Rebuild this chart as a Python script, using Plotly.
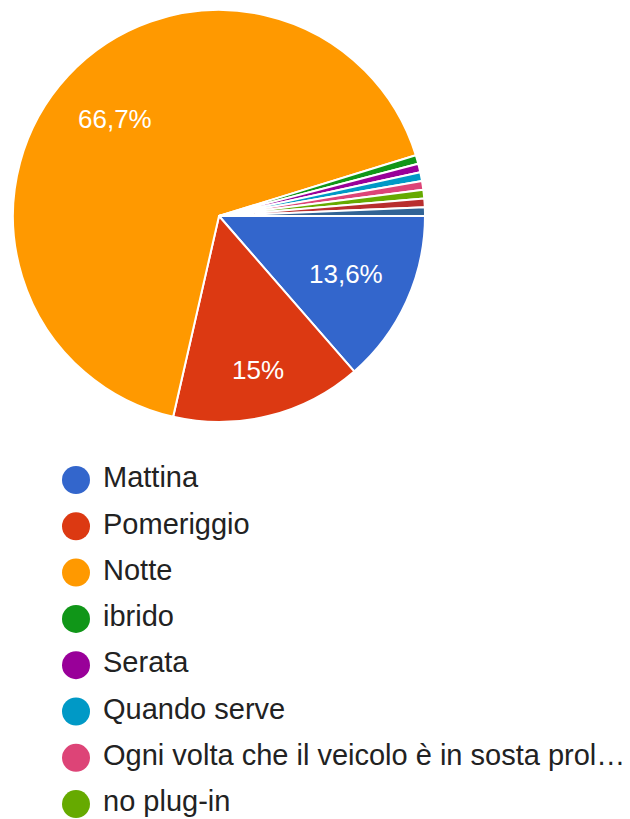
import math
import plotly.graph_objects as go

# Responses per charging moment (count of answers)
labels = [
    "Mattina",
    "Pomeriggio",
    "Notte",
    "ibrido",
    "Serata",
    "Quando serve",
    "Ogni volta che il veicolo è in sosta prolungata",
    "no plug-in",
    "Weekend",
    "Dipende",
]
counts = [20, 22, 98, 1, 1, 1, 1, 1, 1, 1]
colors = [
    "#3366CC", "#DC3912", "#FF9900", "#109618", "#990099",
    "#0099C6", "#DD4477", "#66AA00", "#B82E2E", "#316395",
]
# Entries visible in the legend list (long names are truncated)
legend_labels = [
    "Mattina",
    "Pomeriggio",
    "Notte",
    "ibrido",
    "Serata",
    "Quando serve",
    "Ogni volta che il veicolo è in sosta prol…",
    "no plug-in",
]

FONT = "Liberation Sans, Arial, sans-serif"

total = sum(counts)


def pct_label(v):
    p = round(100 * v / total, 1)
    if p < 5:
        return ""
    s = f"{p:.1f}".rstrip("0").rstrip(".")
    return s.replace(".", ",") + "%"


slice_text = [pct_label(v) for v in counts]

W, H = 630, 819
cx, cy, R = 219, 216, 206
# radial position of each percentage label, as a fraction of the radius
label_radius = [0.68, 0.77, 0.69]

fig = go.Figure()

fig.add_trace(go.Pie(
    labels=labels,
    values=counts,
    textinfo="none",
    marker=dict(colors=colors, line=dict(color="white", width=2)),
    sort=False,
    direction="clockwise",
    rotation=90,
    showlegend=False,
    domain=dict(x=[(cx - R) / W, (cx + R) / W],
                y=[1 - (cy + R) / H, 1 - (cy - R) / H]),
    hoverinfo="label+percent",
))

# Percentage labels placed at the middle angle of each slice
cum = 0
for i, (v, t) in enumerate(zip(counts, slice_text)):
    theta = 2 * math.pi * (cum + v / 2) / total  # clockwise from 3 o'clock
    cum += v
    if not t:
        continue
    f = label_radius[i] if i < len(label_radius) else 0.7
    px = cx + f * R * math.cos(theta)
    py = cy + f * R * math.sin(theta)
    fig.add_annotation(
        x=px / W, y=1 - py / H, xref="paper", yref="paper",
        text=t, showarrow=False,
        xanchor="center", yanchor="middle",
        font=dict(family=FONT, size=26, color="white"),
    )

idx = list(range(len(legend_labels)))

# Legend bullets
fig.add_trace(go.Scatter(
    x=[76] * len(idx),
    y=idx,
    mode="markers",
    marker=dict(size=28, color=colors[:len(idx)], line=dict(width=0)),
    showlegend=False,
    hoverinfo="skip",
))
# Legend labels
fig.add_trace(go.Scatter(
    x=[103] * len(idx),
    y=idx,
    mode="text",
    text=legend_labels,
    textposition="middle right",
    textfont=dict(family=FONT, size=29, color="#222222"),
    showlegend=False,
    hoverinfo="skip",
))

row_h = 46.3
top_px, first_row_px = 460, 480
fig.update_layout(
    width=W,
    height=H,
    margin=dict(l=0, r=0, t=0, b=0),
    paper_bgcolor="white",
    plot_bgcolor="white",
    xaxis=dict(range=[0, W], visible=False, fixedrange=True),
    yaxis=dict(
        domain=[0, 1 - top_px / H],
        range=[(H - first_row_px) / row_h, -(first_row_px - top_px) / row_h],
        visible=False,
        fixedrange=True,
    ),
)

fig.write_html("out.html")
